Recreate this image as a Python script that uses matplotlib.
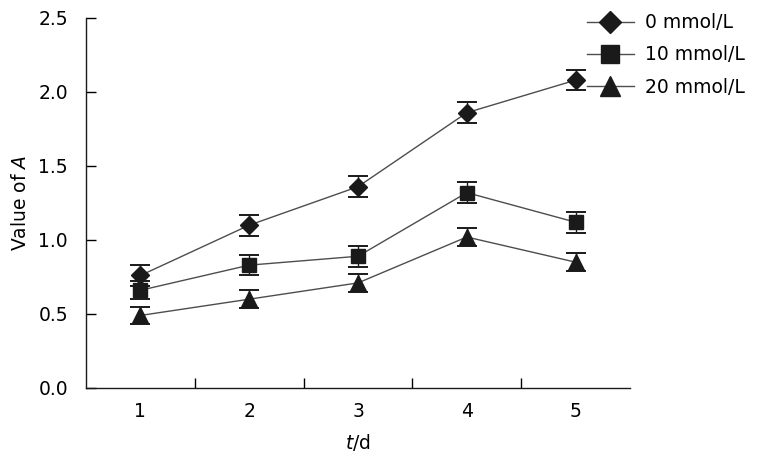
import matplotlib
matplotlib.use('Agg')
import matplotlib.pyplot as plt

plt.rcParams['font.family'] = ['DejaVu Sans']
plt.rcParams['mathtext.fontset'] = 'dejavusans'

days = [1, 2, 3, 4, 5]
labels = ['0 mmol/L', '10 mmol/L', '20 mmol/L']
markers = ['D', 's', '^']
msizes = [9.0, 10.5, 12.0]

vals_0 = [0.76, 1.10, 1.36, 1.86, 2.08]
err_0 = [0.07, 0.07, 0.07, 0.07, 0.07]
vals_10 = [0.66, 0.83, 0.89, 1.32, 1.12]
err_10 = [0.06, 0.07, 0.07, 0.07, 0.07]
vals_20 = [0.49, 0.60, 0.71, 1.02, 0.85]
err_20 = [0.06, 0.06, 0.06, 0.06, 0.06]

series = [vals_0, vals_10, vals_20]
errors = [err_0, err_10, err_20]

fig = plt.figure(figsize=(7.64, 4.61), dpi=100)
ax = fig.add_axes([0.1126, 0.1584, 0.712, 0.8026])

mark_col = '#1a1a1a'
handles = []
for vals, errs, m, ms, lab in zip(series, errors, markers, msizes, labels):
    ax.errorbar(days, vals, yerr=errs, fmt='none', ecolor='#1a1a1a',
                elinewidth=1.0, capsize=7, capthick=1.4, zorder=2)
    h, = ax.plot(days, vals, color='#4d4d4d', lw=1.0, marker=m, ms=ms,
                 mfc=mark_col, mec=mark_col, label=lab, zorder=3)
    handles.append(h)

ax.set_xlim(0.5, 5.5)
ax.set_ylim(0, 2.5)
ax.set_xticks(days)
ax.set_xticklabels([str(d) for d in days])
ax.set_xticks([1.5, 2.5, 3.5, 4.5], minor=True)
ax.set_yticks([0, 0.5, 1.0, 1.5, 2.0, 2.5])
ax.set_yticklabels(['0.0', '0.5', '1.0', '1.5', '2.0', '2.5'])

ax.tick_params(axis='x', which='major', length=0, pad=10, labelsize=13.5)
ax.tick_params(axis='x', which='minor', direction='in', length=7, width=1.0)
ax.tick_params(axis='y', direction='in', length=7, width=1.0, pad=13,
               labelsize=13.5)

for s in ['top', 'right']:
    ax.spines[s].set_visible(False)
for s in ['left', 'bottom']:
    ax.spines[s].set_linewidth(1.0)
    ax.spines[s].set_color('#1a1a1a')

ax.set_ylabel('Value of $\\it{A}$', fontsize=13.5, labelpad=6)
ax.set_xlabel('$\\it{t}$/d', fontsize=13.5, labelpad=8)

fig.legend(handles=handles, labels=labels, loc='center left',
           bbox_to_anchor=(587 / 764, 1 - 55 / 461), frameon=False,
           fontsize=13.5, markerscale=1.2, handlelength=2.5,
           handletextpad=0.6, labelspacing=0.7, borderpad=0,
           borderaxespad=0)

fig.savefig('out.png', dpi=100)
